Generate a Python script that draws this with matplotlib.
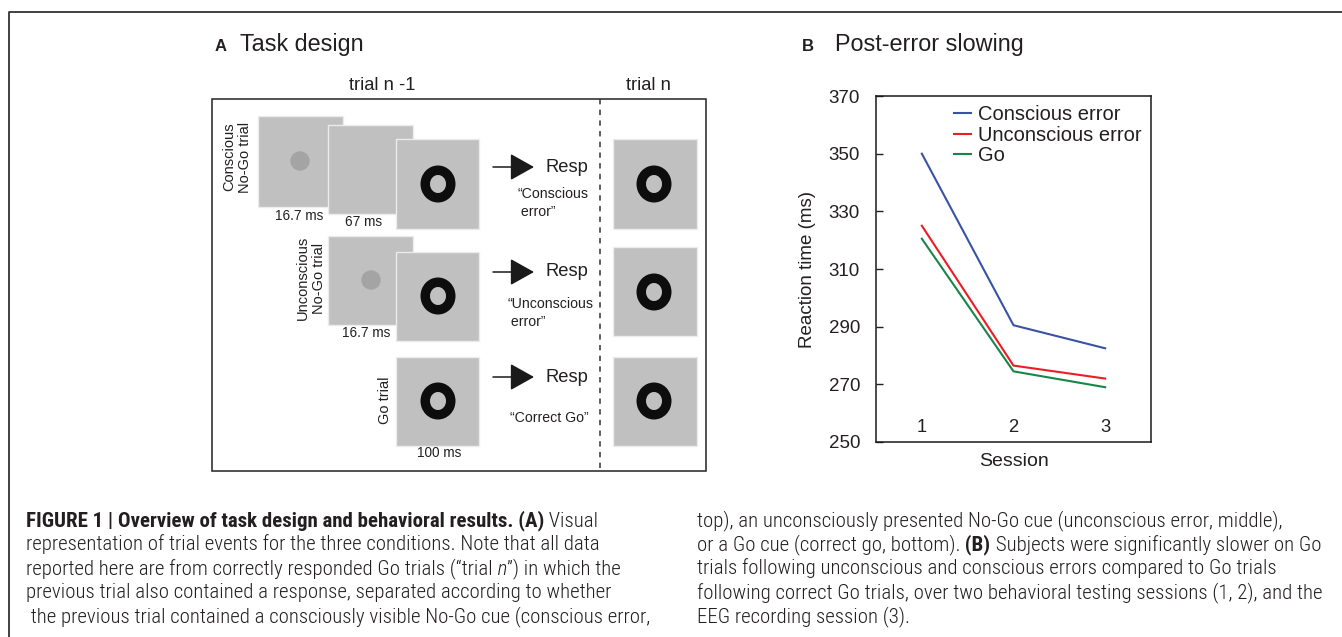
import matplotlib
matplotlib.use("Agg")
import matplotlib.pyplot as plt
from matplotlib import font_manager as fm
from matplotlib.patches import Rectangle, Circle, Annulus

# ---------------- data ----------------
sessions = [1, 2, 3]
session_labels = ["1", "2", "3"]
conscious_rt = [350.0, 290.5, 282.5]
unconscious_rt = [325.0, 276.5, 272.0]
go_rt = [320.5, 274.5, 269.0]
series_names = ["Conscious error", "Unconscious error", "Go"]
series_colors = ["#3953a4", "#ed1c24", "#17864a"]
y_ticks = [250, 270, 290, 310, 330, 350, 370]

# ---------------- fonts ----------------
entries = fm.fontManager.ttflist
avail = {f.name for f in entries}
MAIN = "Liberation Sans" if "Liberation Sans" in avail else "DejaVu Sans"
CAP = MAIN
CAP_STRETCH = "normal"
for cand in ["Liberation Sans Narrow", "Roboto Condensed", "Arial Narrow",
             "DejaVu Sans Condensed", "Noto Sans Condensed", "Open Sans Condensed"]:
    if cand in avail:
        CAP = cand
        break
else:
    for f in entries:
        if f.name == "DejaVu Sans" and str(f.stretch) in ("condensed", "semi-condensed", "600", "500", "700"):
            CAP = "DejaVu Sans"
            CAP_STRETCH = "condensed"
            break
    else:
        if "Roboto" in avail:
            CAP = "Roboto"
plt.rcParams["font.family"] = [MAIN, "DejaVu Sans"]
INK = "#231f20"

W, H = 1342, 637
fig = plt.figure(figsize=(W / 100, H / 100), dpi=100)
fig.patch.set_facecolor("white")

# overlay axes in pixel coordinates (panel A drawing, titles, caption)
ov = fig.add_axes([0, 0, 1, 1])
ov.set_xlim(0, W)
ov.set_ylim(H, 0)
ov.axis("off")

# outer frame (top + left)
ov.plot([9, 9, W], [H, 12, 12], color="#333333", lw=1.3, solid_capstyle="butt", clip_on=False)

# panel titles
ov.text(215, 51, "A", fontsize=12, fontweight="bold", color=INK, va="baseline")
ov.text(240, 51, "Task design", fontsize=16.8, color=INK, va="baseline")
ov.text(802, 51, "B", fontsize=12, fontweight="bold", color=INK, va="baseline")
ov.text(835, 51, "Post-error slowing", fontsize=16.8, color=INK, va="baseline")

# ---------------- panel A ----------------
ov.text(382, 85, "trial n -1", fontsize=13.2, color=INK, ha="center", va="center")
ov.text(648, 85, "trial n", fontsize=13.2, color=INK, ha="center", va="center")
ov.add_patch(Rectangle((212, 99), 494, 372, fill=False, lw=1.1, ec="#222222"))
ov.plot([600, 600], [99, 471], color="#333333", lw=1.1, ls=(0, (3.5, 3.5)))

SQ = "#c0c0c0"
SQE = "#ececec"


def square(x0, y0, x1, y1):
    ov.add_patch(Rectangle((x0, y0), x1 - x0, y1 - y0, fc=SQ, ec=SQE, lw=1.0))


def ring(cx, cy):
    ov.add_patch(Annulus((cx, cy), (17.5, 18.5), 9.5, color="#0d0d0d", lw=0))


def dot(cx, cy):
    ov.add_patch(Circle((cx, cy), 9.7, color="#a4a4a4", lw=0))


def arrow(y):
    ov.annotate("", xy=(534, y), xytext=(493, y),
                arrowprops=dict(arrowstyle="-|>,head_length=0.75,head_width=0.42",
                                color="#1a1a1a", lw=1.1, shrinkA=0, shrinkB=0,
                                mutation_scale=20))
    ov.text(567, y, "Resp", fontsize=13.2, color=INK, ha="center", va="center")


# row 1 : conscious
square(258, 116, 343, 207)
dot(300, 161)
square(328, 125, 413, 214)
square(396, 139, 479, 229)
ring(438, 184)
square(613, 139, 697, 229)
ring(654, 184)
ov.text(237, 157, "Conscious\nNo-Go trial", rotation=90, fontsize=10.5, color=INK,
        ha="center", va="center", multialignment="center", linespacing=1.15)
ov.text(299, 216, "16.7 ms", fontsize=9.8, color=INK, ha="center", va="center")
ov.text(364, 222, "67 ms", fontsize=9.8, color=INK, ha="center", va="center")
arrow(167)
ov.text(517, 203, "\u201cConscious\n error\u201d", fontsize=10.2, color=INK, ha="left",
        va="center", multialignment="left", linespacing=1.3)

# row 2 : unconscious
square(328, 236, 413, 325)
dot(371, 280)
square(396, 252, 479, 341)
ring(438, 296)
square(613, 247, 697, 336)
ring(654, 292)
ov.text(311, 278, "Unconscious\nNo-Go trial", rotation=90, fontsize=10.5, color=INK,
        ha="center", va="center", multialignment="center", linespacing=1.15)
ov.text(366, 333, "16.7 ms", fontsize=9.8, color=INK, ha="center", va="center")
arrow(272)
ov.text(507, 313, "\u201cUnconscious\n error\u201d", fontsize=10.2, color=INK, ha="left",
        va="center", multialignment="left", linespacing=1.3)

# row 3 : go
square(396, 357, 479, 446)
ring(438, 401)
square(613, 357, 697, 446)
ring(654, 401)
ov.text(385, 400, "Go trial", rotation=90, fontsize=10.5, color=INK, ha="center", va="center")
ov.text(439, 453, "100 ms", fontsize=9.8, color=INK, ha="center", va="center")
arrow(377)
ov.text(549, 418, "\u201cCorrect Go\u201d", fontsize=10.2, color=INK, ha="center", va="center")

# ---------------- panel B ----------------
axB = fig.add_axes([876 / W, 1 - 442 / H, 275 / W, 346 / H])
for vals, name, col in zip([conscious_rt, unconscious_rt, go_rt], series_names, series_colors):
    axB.plot(sessions, vals, color=col, lw=1.5, label=name)
axB.set_xlim(0.5, 3.5)
axB.set_ylim(250, 370)
axB.set_yticks(y_ticks)
axB.set_yticklabels([str(v) for v in y_ticks])
axB.set_xticks(sessions)
axB.set_xticklabels(session_labels)
for lab in axB.get_xticklabels():
    lab.set_verticalalignment("baseline")
axB.tick_params(axis="y", direction="in", length=5, width=1.0, labelsize=13.5,
                pad=11.5, colors=INK, labelcolor=INK)
axB.tick_params(axis="x", length=0, labelsize=13.2, pad=-7.2, labelcolor=INK)
for sp in axB.spines.values():
    sp.set_linewidth(1.1)
    sp.set_color("#1a1a1a")
axB.set_ylabel("Reaction time (ms)", fontsize=13.5, labelpad=9, color=INK)
axB.set_xlabel("Session", fontsize=14, labelpad=8, color=INK)
axB.legend(loc="upper left", bbox_to_anchor=(954, 105), bbox_transform=ov.transData,
           frameon=False, borderpad=0, borderaxespad=0, handlelength=0.85,
           handletextpad=0.35, labelspacing=0.08, fontsize=14.5, labelcolor=INK)

# ---------------- caption ----------------
N, B, I, L = "normal", "bold", "italic", "light"
left_lines = [
    [("FIGURE 1 | Overview of task design and behavioral results. (A)", B, N), (" Visual", L, N)],
    [("representation of trial events for the three conditions. Note that all data", L, N)],
    [("reported here are from correctly responded Go trials (\u201ctrial", L, N), (" n", L, I),
     ("\u201d) in which the", L, N)],
    [("previous trial also contained a response, separated according to whether", L, N)],
    [(" the previous trial contained a consciously visible No-Go cue (conscious error,", L, N)],
]
right_lines = [
    [("top), an unconsciously presented No-Go cue (unconscious error, middle),", L, N)],
    [("or a Go cue (correct go, bottom).", L, N), (" (B)", B, N),
     (" Subjects were significantly slower on Go", L, N)],
    [("trials following unconscious and conscious errors compared to Go trials", L, N)],
    [("following correct Go trials, over two behavioral testing sessions (1, 2), and the", L, N)],
    [("EEG recording session (3).", L, N)],
]
# target widths (px) of two reference lines, used to fit the caption size
fit_targets = [(right_lines[3], 615.0), (left_lines[0], 581.0)]


def seg_kw(weight, style, size):
    return dict(fontsize=size, fontweight=weight, style=style, family=[CAP, "DejaVu Sans"],
                fontstretch=CAP_STRETCH, color=INK, ha="left")


renderer = fig.canvas.get_renderer()
ratios = []
for segs, target in fit_targets:
    tot = 0.0
    for txt, w, s in segs:
        t = ov.text(0, 0, txt, va="baseline", **seg_kw(w, s, 10.0))
        tot += t.get_window_extent(renderer).width
        t.remove()
    ratios.append(target / tot)
CS = min(15.5, 10.0 * sum(ratios) / len(ratios))


def caption_line(x, y, segments):
    prev = None
    for txt, weight, style in segments:
        kw = seg_kw(weight, style, CS)
        if prev is None:
            prev = ov.text(x, y, txt, va="baseline", **kw)
        else:
            prev = ov.annotate(txt, xy=(1, 0), xycoords=prev, va="bottom", **kw)


for i, segs in enumerate(left_lines):
    caption_line(26, 526 + 24 * i, segs)
for i, segs in enumerate(right_lines):
    caption_line(697, 526 + 24 * i, segs)

fig.savefig("out.png", dpi=100, facecolor="white")
